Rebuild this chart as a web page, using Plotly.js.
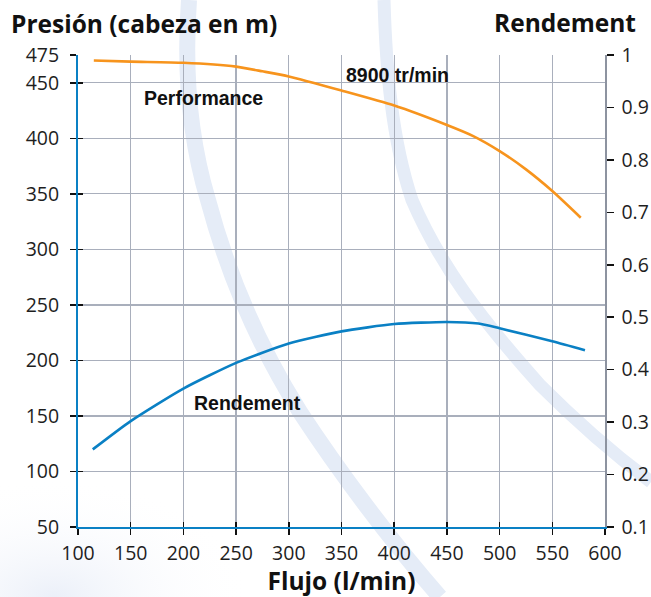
<!DOCTYPE html>
<html>
<head>
<meta charset="utf-8">
<script src="https://cdn.plot.ly/plotly-3.0.1.min.js"></script>
<style>
  html, body { margin: 0; padding: 0; background: #ffffff; }
  #wrap { position: relative; width: 651px; height: 597px; overflow: hidden; }
  #bg { position: absolute; left: 0; top: 0; width: 651px; height: 597px; }
  #chart { position: absolute; left: 0; top: 0; width: 651px; height: 597px; }
</style>
</head>
<body>
<div id="wrap">
  <svg id="bg" width="651" height="597" viewBox="0 0 651 597">
    <defs>
      <radialGradient id="g1" cx="0.15" cy="1" r="0.55">
        <stop offset="0" stop-color="#e9eef8" stop-opacity="0.9"/>
        <stop offset="1" stop-color="#ffffff" stop-opacity="0"/>
      </radialGradient>
    </defs>
    <rect x="0" y="380" width="360" height="217" fill="url(#g1)"/>
    <path d="M189,0 C184,70 190,140 208,200 C228,275 258,345 300,412 C338,470 390,540 440,597"
          fill="none" stroke="#e5ecf7" stroke-width="16"/>
    <path d="M384,0 C386,70 392,140 412,200 C440,265 480,318 540,385 C580,425 615,455 651,482"
          fill="none" stroke="#e5ecf7" stroke-width="13"/>
  </svg>
  <div id="chart"></div>
</div>
<script>
// Performance curve (head, left axis)
const flowPerf = [115, 150, 200, 250, 275, 300, 350, 400, 450, 475, 500, 525, 550, 577];
const headPerf = [470, 469, 468, 464.5, 460.3, 455.7, 443, 429.5, 412, 402, 388.5, 372, 352.5, 328.5];

// Rendement curve (efficiency, right axis)
const flowEff = [114, 150, 200, 250, 300, 350, 400, 450, 480, 500, 550, 581];
const effVals = [0.248, 0.302, 0.364, 0.413, 0.450, 0.473, 0.487, 0.491, 0.488, 0.479, 0.454, 0.437];

// Tick values
const xTicks = [100, 150, 200, 250, 300, 350, 400, 450, 500, 550, 600];
const yTicks = [50, 100, 150, 200, 250, 300, 350, 400, 450, 475];
const y2Ticks = [0.1, 0.2, 0.3, 0.4, 0.5, 0.6, 0.7, 0.8, 0.9, 1];
const y2Labels = ['0.1', '0.2', '0.3', '0.4', '0.5', '0.6', '0.7', '0.8', '0.9', '1'];

// Labels
const leftTitle = 'Presión (cabeza en m)';
const rightTitle = 'Rendement';
const xTitle = 'Flujo (l/min)';
const labelPerf = 'Performance';
const labelSpeed = '8900 tr/min';
const labelEff = 'Rendement';

const orange = '#f7941d';
const blue = '#0a80c4';
const gridCol = '#a9afbc';
const tickFont = { family: 'Open Sans, sans-serif', size: 19.5, color: '#1e1e1e' };
const titleFont = { family: 'Open Sans, sans-serif', size: 24.5, color: '#111111', weight: 'bold' };
const annFont = { family: 'Liberation Sans, Arial, sans-serif', size: 19.5, color: '#111111', weight: 'bold' };

const traces = [
  { x: flowPerf, y: headPerf, xaxis: 'x', yaxis: 'y', mode: 'lines',
    line: { color: orange, width: 2.6, shape: 'spline', smoothing: 0.6 }, hoverinfo: 'skip' },
  { x: flowEff, y: effVals, xaxis: 'x', yaxis: 'y2', mode: 'lines',
    line: { color: blue, width: 2.6, shape: 'spline', smoothing: 0.6 }, hoverinfo: 'skip' },
  { x: [], y: [], xaxis: 'x2', yaxis: 'y3', mode: 'lines', hoverinfo: 'skip' }
];

const layout = {
  width: 651, height: 597,
  margin: { l: 78, r: 46, t: 55, b: 70, pad: 0 },
  paper_bgcolor: 'rgba(0,0,0,0)',
  plot_bgcolor: 'rgba(0,0,0,0)',
  showlegend: false,
  xaxis: {
    range: [100, 600], tickvals: xTicks, ticktext: xTicks.map(String),
    showgrid: true, gridcolor: gridCol, gridwidth: 1.3,
    showline: true, linecolor: blue, linewidth: 2,
    ticks: 'outside', ticklen: 6, tickwidth: 1.5, tickcolor: '#111',
    tickfont: tickFont, ticklabelstandoff: 2, zeroline: false,
    title: { text: xTitle, font: titleFont, standoff: 7 }
  },
  xaxis2: {
    overlaying: 'x', anchor: 'y3', side: 'bottom', range: [100, 600], tickvals: xTicks,
    showticklabels: false, showgrid: false, showline: false, zeroline: false,
    ticks: 'inside', ticklen: 5, tickwidth: 1.5, tickcolor: '#111'
  },
  yaxis: {
    range: [50, 475], tickvals: yTicks, ticktext: yTicks.map(String),
    showgrid: true, gridcolor: gridCol, gridwidth: 1.3,
    showline: true, linecolor: blue, linewidth: 2,
    ticks: 'outside', ticklen: 6, tickwidth: 1.5, tickcolor: '#111',
    tickfont: tickFont, ticklabelstandoff: 7, zeroline: false
  },
  yaxis3: {
    overlaying: 'y', anchor: 'x2', side: 'left', range: [50, 475], tickvals: yTicks,
    showticklabels: false, showgrid: false, showline: false, zeroline: false,
    ticks: 'inside', ticklen: 5, tickwidth: 1.5, tickcolor: '#111'
  },
  yaxis2: {
    overlaying: 'y', side: 'right', anchor: 'x', range: [0.1, 1],
    tickvals: y2Ticks, ticktext: y2Labels,
    showgrid: false, showline: true, linecolor: '#8d93a0', linewidth: 1.5,
    ticks: 'outside', ticklen: 7, tickwidth: 1.5, tickcolor: '#111',
    tickfont: tickFont, ticklabelstandoff: 4, zeroline: false
  },
  annotations: [
    { text: leftTitle, xref: 'paper', yref: 'paper', x: -0.131, y: 1.066,
      xanchor: 'left', yanchor: 'middle', showarrow: false, font: titleFont },
    { text: rightTitle, xref: 'paper', yref: 'paper', x: 1.0626, y: 1.069,
      xanchor: 'right', yanchor: 'middle', showarrow: false, font: titleFont },
    { text: labelPerf, xref: 'x', yref: 'y', x: 219.5, y: 436,
      xanchor: 'center', yanchor: 'middle', showarrow: false, font: annFont },
    { text: labelSpeed, xref: 'x', yref: 'y', x: 403, y: 457,
      xanchor: 'center', yanchor: 'middle', showarrow: false, font: annFont },
    { text: labelEff, xref: 'x', yref: 'y', x: 261, y: 162,
      xanchor: 'center', yanchor: 'middle', showarrow: false, font: annFont }
  ]
};

Plotly.newPlot('chart', traces, layout, { staticPlot: true, displayModeBar: false });
</script>
</body>
</html>
